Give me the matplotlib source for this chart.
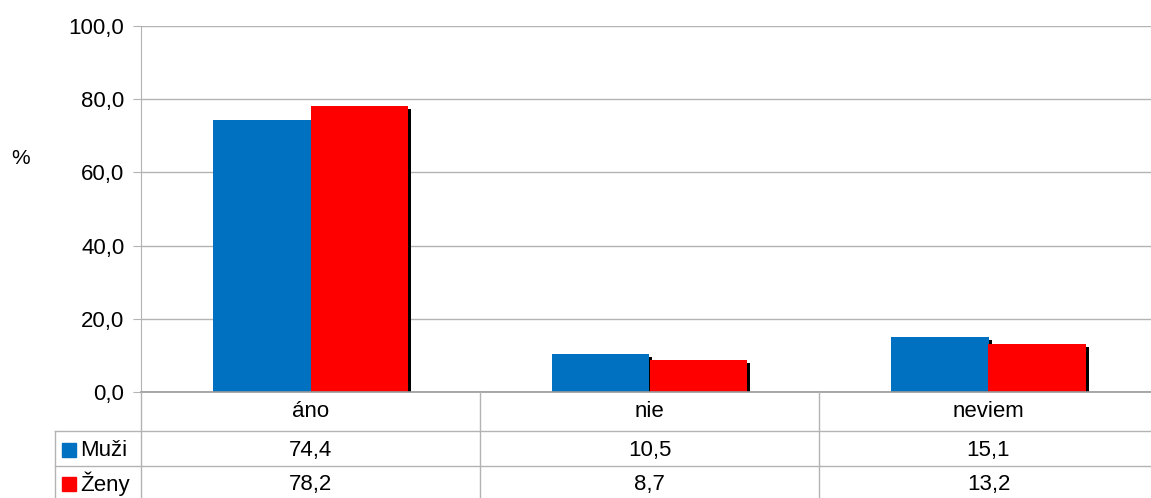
import numpy as np
from matplotlib import pyplot as plt
from matplotlib.patches import Rectangle
from matplotlib.lines import Line2D

# --- Data
categories = ['áno', 'nie', 'neviem']
series_names = ['Muži', 'Ženy']
muzi = [74.4, 10.5, 15.1]
zeny = [78.2, 8.7, 13.2]
series_values = [muzi, zeny]
series_colors = ['#0070c0', '#ff0000']

W, H = 1151, 498
FONT = 'Liberation Sans'
FS_TICK = 16
FS_TBL = 16
GRID = '#b3b3b3'

plt.rcParams['font.family'] = [FONT, 'DejaVu Sans']

fig = plt.figure(figsize=(W / 100, H / 100), dpi=100)

# plot area in pixels (right edge runs past the image border)
px_left, px_right = 141, 1158
px_top, px_bottom = 26, 392
ax = fig.add_axes([px_left / W, 1 - px_bottom / H,
                   (px_right - px_left) / W, (px_bottom - px_top) / H])

x = np.arange(len(categories))
bw = 0.2875
offsets = [-bw / 2, bw / 2]

# shadow offsets (3px right, 3px down) converted to data units
sx = 3 / ((px_right - px_left) / len(categories))
sy = 3 * 100 / (px_bottom - px_top)

for vals, off in zip(series_values, offsets):
    ax.bar(x + off + sx, np.array(vals) - sy, bw, color='black', zorder=2)
for vals, off, col in zip(series_values, offsets, series_colors):
    ax.bar(x + off, vals, bw, color=col, zorder=3)

ax.set_xlim(-0.5, len(categories) - 0.5)
ax.set_ylim(0, 100)
ax.set_yticks(np.arange(0, 101, 20))
ax.set_yticklabels([f'{v:.1f}'.replace('.', ',') for v in np.arange(0, 101, 20)],
                   fontsize=FS_TICK)
ax.tick_params(axis='y', length=6, color=GRID, pad=6)
ax.set_xticks([])
ax.yaxis.grid(True, color=GRID, linewidth=1)
ax.set_axisbelow(True)
for s in ['top', 'right', 'bottom']:
    ax.spines[s].set_visible(False)
ax.spines['left'].set_color(GRID)
ax.spines['left'].set_zorder(1)

fig.text(21 / W, 1 - 158 / H, '%', fontsize=15, ha='center', va='center')

# --- data table below the plot
def fx(px):
    return px / W

def fy(py):
    return 1 - py / H

col_edges = [141, 480, 819, 1158]
row_lines = [392, 431, 466]
tbl_left = 55

lines = []
lines.append(Line2D([fx(141), fx(1158)], [fy(392), fy(392)], color='#999999', linewidth=1.2))
for ry in row_lines[1:]:
    lines.append(Line2D([fx(tbl_left), fx(1158)], [fy(ry), fy(ry)], color=GRID, linewidth=1))
lines.append(Line2D([fx(tbl_left), fx(tbl_left)], [fy(431), fy(498)], color=GRID, linewidth=1))
for cx in col_edges:
    lines.append(Line2D([fx(cx), fx(cx)], [fy(392), fy(498)], color=GRID, linewidth=1))
for ln in lines:
    fig.add_artist(ln)

centers = [(col_edges[i] + col_edges[i + 1]) / 2 for i in range(len(categories))]
for cx, cat in zip(centers, categories):
    fig.text(fx(cx), fy(411), cat, fontsize=FS_TBL, ha='center', va='center')

row_centers = [450, 484]
for ry, name, vals, col in zip(row_centers, series_names, series_values, series_colors):
    fig.add_artist(Rectangle((fx(62), fy(ry + 7)), 14 / W, 14 / H,
                             transform=fig.transFigure, color=col))
    fig.text(fx(80), fy(ry), name, fontsize=FS_TBL, ha='left', va='center')
    for cx, v in zip(centers, vals):
        fig.text(fx(cx), fy(ry), f'{v:.1f}'.replace('.', ','),
                 fontsize=FS_TBL, ha='center', va='center')

fig.savefig('out.png', dpi=100)
